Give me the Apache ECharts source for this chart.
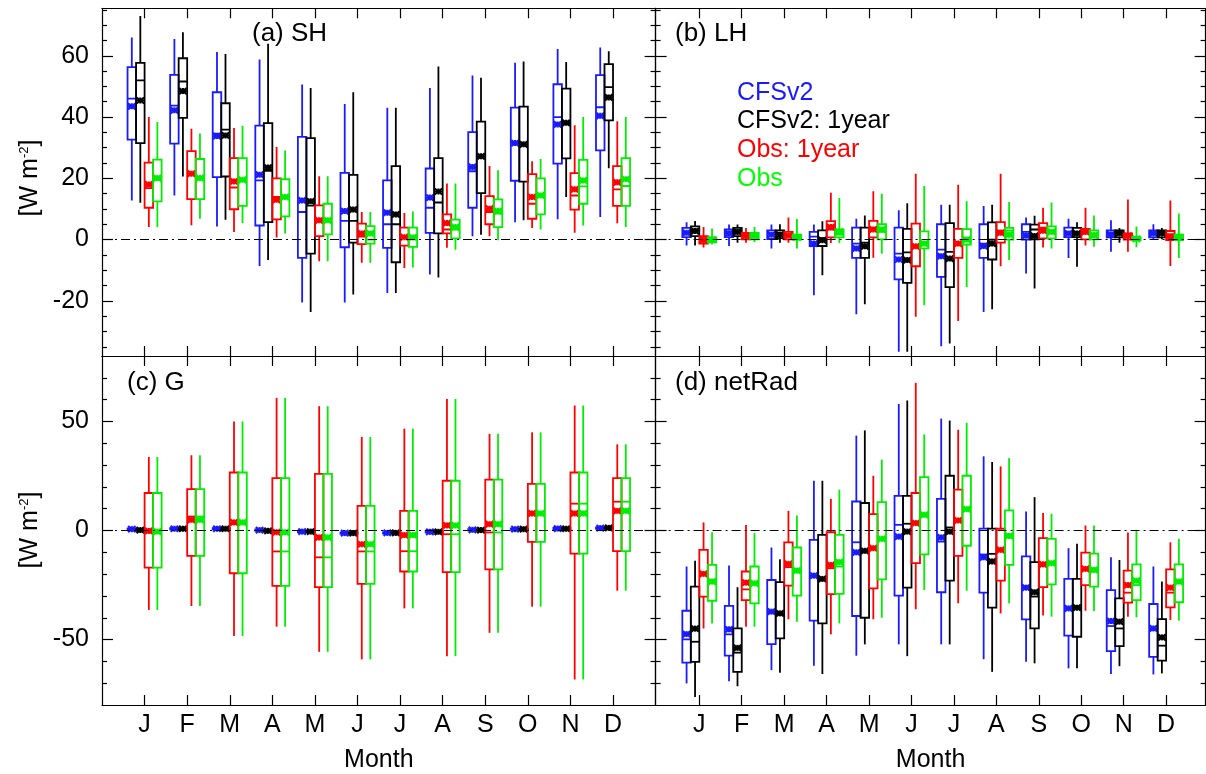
<!DOCTYPE html>
<html><head><meta charset="utf-8">
<script src="https://cdn.jsdelivr.net/npm/echarts@6/dist/echarts.min.js"></script>
<style>html,body{margin:0;padding:0;background:#fff}#c{width:1206px;height:774px}</style>
</head><body><div id="c"></div>
<script>
// ---------- labels ----------
const MONTHS = ['J','F','M','A','M','J','J','A','S','O','N','D'];
const MONTH_POS = [1,2,3,4,5,6,7,8,9,10,11,12];
const SERIES_NAMES = ['CFSv2','CFSv2: 1year','Obs: 1year','Obs'];
const PANEL_TITLES = ['(a) SH','(b) LH','(c) G','(d) netRad'];
const TOP_MAJOR = [-20,0,20,40,60];
const TOP_MINOR = [-35,-30,-25,-15,-10,-5,5,10,15,25,30,35,45,50,55,65,70,75];
const BOT_MAJOR = [-50,0,50];
const BOT_MINOR = [-70,-60,-40,-30,-20,-10,10,20,30,40,60,70];

// each month: [min, q1, median, q3, max, mean]
// ---------- (a) SH ----------
const SH_CFSv2 = [[12.8,32.6,46,56.3,66,43.5],[14.4,31.3,43.7,53.8,65.5,42.2],[4.3,20.4,34.6,48.1,61.2,33.8],[-8.6,4.6,19.3,37.2,58.8,21.2],[-20.5,-6,9,33.5,50.6,12.8],[-20.5,-2.5,6.1,21.8,44.3,9.3],[-17.4,-2.7,5,19.3,43,8.8],[-11.4,2.2,10.4,23.2,49.5,13.7],[1.1,10.4,22.3,35.1,53.6,23.7],[5.7,19.2,31.8,43.1,57.7,31.5],[6.6,24.8,40,50.7,62.2,37.6],[7.4,29.1,43.2,53.7,62.7,40.4]];
const SH_CFSv2_1yr = [[12,31.5,52,57.7,73,45.4],[20.6,39.7,51.6,59.2,67.7,48.5],[6.5,20.6,35.9,44.5,60.6,34],[-6.7,5.7,22.4,38,63.9,23.5],[-23.6,-4.6,11.1,33.1,49.5,12.5],[-17.9,-1,6.1,21.1,48.1,9.8],[-17.4,-7.4,5,24,43,8.2],[-12.4,2,12.1,26.6,56.5,15.7],[1.6,15.2,27,38.5,52.8,27.2],[6.3,18.9,31.1,43.4,58.1,31.1],[13.9,26.5,38.3,49.3,58,38.1],[23.3,38.9,49.8,57.3,61.5,46.4]];
const SH_Obs_1yr = [[4.1,10.4,16.8,25.1,40,18],[4.7,13.2,21.5,28.9,36.2,21.5],[2.5,9.9,17,26.6,36.4,19],[0.7,6.6,13.9,20,30.2,13],[-7.1,1.1,6.5,11.2,20.7,6.3],[-7.6,-1.5,1,5.2,9,2],[-9.3,-2,0.7,3.9,8.7,0.8],[-2.7,2,3.3,8.2,18.3,5.4],[1.1,5,9,14.2,24,10.1],[3.8,6.8,11.7,21.4,25.6,13.9],[2.2,9.8,14.4,21.7,37.3,16.4],[5.3,11,16.4,24,38.6,18.7]];
const SH_Obs = [[4.1,12.5,19.5,26.1,38.4,20.1],[6.8,13.2,20.1,26.3,34.6,20.1],[5.4,11,19.3,26.6,37.2,19.5],[2,7.6,13.9,19.7,29.1,13.9],[-7.1,1.7,6.7,11.7,20.7,6.3],[-7.6,-1.3,0,4.4,9,2],[-9.1,-2.4,0.9,3.9,9.2,0.7],[-3.3,0.4,3.3,6.5,18.3,4.1],[-0.2,4.1,8.5,13.1,22.6,9.3],[3.3,8.2,14.4,20,26.3,14.4],[4.6,11.7,17.4,26,40,19.3],[4.1,11,17.5,26.6,40,19.7]];
// ---------- (b) LH ----------
const LH_CFSv2 = [[-1.9,0.8,2.5,3.8,5.7,2.2],[-2.1,0.8,2.3,3.3,4.9,2],[-2.9,0.2,2,3,4.9,1.6],[-18.2,-2.1,1,2.5,4.9,-1.3],[-24.4,-6,-1.3,3.9,6.8,-2.9],[-36.6,-13,-4.6,3.9,9.6,-6.5],[-34.8,-12.2,-3.3,5,11.4,-5.4],[-23.6,-6,-1.3,5,11,-2.1],[-11.1,0,2.5,5,7.2,1.3],[-6,0.8,2.3,3.9,6.8,2],[-4,0.7,2,3,6.3,1.7],[0,0.7,2,3,5,2]];
const LH_CFSv2_1yr = [[-1.9,1.1,3.3,4.3,6.1,2.8],[-1,1.1,3,3.8,4.9,2.5],[-1,0.5,2.2,3,5,1.6],[-11.6,-2.1,0.5,3,6,-0.2],[-21.1,-6,-1,3.9,7.9,-2.2],[-36.6,-14.1,-4.2,3.5,11.9,-6.7],[-33.9,-15.5,-4,5.4,11.4,-6.2],[-22.7,-6.5,0,5.6,11.4,-1.3],[-16,0.1,3.3,4.9,7.8,1.2],[-8.9,0.8,2.3,3.8,5.7,2],[-1,0.7,2.2,3,3.8,2],[0.1,0.7,2.2,3,3.8,2]];
const LH_Obs_1yr = [[-2.6,-1.3,0.5,1.1,4.1,-0.2],[-1,0.1,1.2,2.2,3.8,1.2],[-1,0.1,1.5,2.5,7.2,1.3],[-1.1,0.7,3.3,6,15.3,4.1],[-5.9,0.7,3.8,6.1,15.8,3.3],[-25.2,-8.7,-2.2,5.2,21.5,-2.2],[-26.6,-6,-1.3,3.5,17.9,-1.3],[-8.7,-1,2.9,5.7,21.5,2.2],[-2.6,0.4,3.9,5.4,10.4,2.9],[-1.9,0.1,2,3.5,10.4,2.5],[-4,0,0.8,2,13.1,1.2],[-8.6,-0.2,1.8,2.8,12.8,0.8]];
const LH_Obs = [[-1.6,-0.9,0.3,0.7,3.6,0],[-0.8,0.1,1.2,2.2,4.1,1.2],[-2.9,0,0.9,1.6,6.7,0.7],[-1.1,0.7,1.6,3.3,13.6,2.5],[-4.6,0.1,2.5,5,15,3.3],[-21.4,-2.9,-1,2.7,17.5,-1.3],[-15.5,-1.6,0.5,3.4,12.5,0],[-6.7,0,2.9,3.8,12.3,1.6],[-2.9,0.4,2.9,4.3,12.1,2.5],[-2.3,0.1,2,3,7.9,1.4],[-2.5,-0.2,0.4,0.8,4.3,0.2],[-6,-0.2,0.5,1.6,8.5,0.8]];
// ---------- (c) G ----------
const G_CFSv2 = [[0.1,0.3,0.6,0.9,1.1,0.6],[0.3,0.5,0.8,1.1,1.3,0.8],[0.3,0.5,0.8,1.1,1.3,0.8],[-0.4,-0.1,0.2,0.5,0.7,0.2],[-1,-0.8,-0.5,-0.2,0,-0.5],[-1.7,-1.5,-1.2,-0.9,-0.7,-1.2],[-1.6,-1.4,-1.1,-0.8,-0.6,-1.1],[-1.1,-0.9,-0.6,-0.3,-0.1,-0.6],[-0.2,0,0.3,0.6,0.8,0.3],[0.1,0.3,0.6,0.9,1.1,0.6],[0.4,0.6,0.9,1.2,1.4,0.9],[0.6,0.8,1.1,1.4,1.6,1.1]];
const G_CFSv2_1yr = [[-0.3,-0.1,0.2,0.5,0.7,0.2],[0.3,0.5,0.8,1.1,1.3,0.8],[0.3,0.5,0.8,1.1,1.3,0.8],[-0.7,-0.4,-0.15,0.2,0.4,-0.15],[-1,-0.8,-0.5,-0.2,0,-0.5],[-1.7,-1.5,-1.2,-0.9,-0.7,-1.2],[-1.6,-1.4,-1.1,-0.8,-0.6,-1.1],[-1.1,-0.9,-0.6,-0.3,-0.1,-0.6],[-0.3,-0.1,0.2,0.5,0.7,0.2],[0.1,0.3,0.6,0.9,1.1,0.6],[0.3,0.5,0.8,1.1,1.3,0.8],[0.7,0.9,1.2,1.5,1.7,1.2]];
const G_Obs_1yr = [[-36.4,-17,-0.9,17.2,33.7,-0.2],[-34.6,-11.6,6.4,19,34.5,4.9],[-48.4,-19.6,3.1,26.6,50,3.7],[-44.1,-25.4,-9.6,24,60.8,-0.8],[-55.6,-26,-12.3,26,57,-3.2],[-59.1,-24.5,-9.6,11.3,42.9,-6.3],[-35.7,-18.8,-9.5,9,46.7,-2.1],[-57.6,-19.1,-1.7,22.8,60.3,2.3],[-46.9,-17.8,-0.9,23.3,44.3,2.9],[-34.9,-5.2,7.7,21.4,45,7.8],[-68.3,-10.6,12.3,26.6,57.3,7.8],[-27.6,-9.5,13.2,24,39.5,9]];
const G_Obs = [[-36.4,-17,-0.9,17.2,33.7,-0.5],[-34.6,-11.6,6.4,19,34.5,4.9],[-48.4,-19.6,3.1,26.6,50,3.7],[-44.1,-25.4,-9.6,24,60.8,-0.8],[-55.6,-26,-12.3,26,57,-3.2],[-59.1,-24.5,-9.6,11.3,42.9,-6.3],[-35.7,-18.8,-9.5,9,46.7,-2.1],[-57.6,-19.1,-1.7,22.8,60.3,2.3],[-46.9,-17.8,-0.9,23.3,44.3,2.9],[-34.9,-5.2,7.7,21.4,45,7.8],[-68.3,-10.6,12.3,26.6,57.3,7.8],[-27.6,-9.5,13.2,24,39.5,9]];
// ---------- (d) netRad ----------
const NR_CFSv2 = [[-70.1,-60.6,-49.9,-36.8,-16.5,-47.5],[-69.1,-57.4,-47.6,-34.6,-16.1,-45.3],[-64,-52.1,-37.5,-22.7,-7.8,-37.2],[-62,-41.3,-20.7,-4.3,22.8,-20.7],[-57.4,-39.2,-5.4,13.3,43.5,-10],[-52.2,-29.9,2.6,15.9,58,-2.8],[-52.2,-28.3,-5.1,14.5,51.3,-3.2],[-59,-28.5,-11,0.9,34,-12.3],[-60.2,-40.7,-26,-11.9,8.7,-26.2],[-63.2,-48.2,-35.7,-22.2,-8.1,-35.7],[-65.8,-55.3,-43.8,-27.3,-12.3,-41.5],[-66,-57.9,-45.5,-33.7,-16.5,-44.9]];
const NR_CFSv2_1yr = [[-76.3,-60.2,-51,-25.7,-13.9,-45],[-71.4,-64.8,-56,-44.9,-26,-53.8],[-65.2,-49.5,-38.5,-23.7,-13.2,-38],[-65.8,-42.6,-22.5,-2,22.8,-22.2],[-52.2,-40,-9.5,12.6,45.9,-9.3],[-57.6,-26.2,3.1,15.9,59.6,-0.5],[-52.2,-23,1.4,25.1,50.4,-0.5],[-64.8,-35.4,-10.7,0.9,31.4,-14.2],[-60.9,-44.9,-30.3,-14.5,15.3,-28.3],[-63.2,-48.7,-35.4,-22.2,-6.1,-35.4],[-62.2,-53,-44.9,-31.1,-13.5,-41.8],[-65.5,-59.7,-52.8,-40.6,-23.4,-49]];
const NR_Obs_1yr = [[-44.9,-30.3,-19.6,-8.9,3.7,-19.9],[-44.1,-31.9,-27,-18.8,2.5,-23.9],[-40.7,-25.3,-16.8,-5.4,9,-15.3],[-47.6,-29.2,-17.3,-0.8,14.5,-15.8],[-40.7,-26.5,-7.8,7.5,25.1,-8.1],[-36.1,-15,3,17.2,67.7,3.4],[-33.4,-11.6,4.6,18.7,46.2,4.6],[-38,-23,-8.9,0.8,29.4,-8.9],[-39,-26,-15.5,-3.5,8,-15.5],[-36.8,-25,-17.6,-10.1,2.3,-17.6],[-39.5,-33.1,-28.5,-18.4,-0.9,-25],[-41,-35.2,-28.5,-17.8,-5.4,-26.2]];
const NR_Obs = [[-42.6,-32.2,-23.4,-15.8,-0.8,-23.4],[-44.1,-33.4,-24.2,-16.5,-1.2,-24.2],[-41.8,-29.9,-18.4,-7.8,6.9,-18.4],[-42.6,-29.1,-16.5,-2,18.7,-14.5],[-40,-22.4,-3.5,13,32.5,-3.8],[-27.3,-10.9,7.2,24.5,44,7.2],[-27.6,-7,9.8,25.1,49.3,9.8],[-33.4,-15.8,-2.5,9.2,33.2,-2.5],[-39.5,-24.7,-15,-3.8,7.7,-15],[-36.9,-25.7,-18.1,-10.6,2.3,-18.1],[-39.8,-31.9,-25,-15.5,0.3,-23],[-41.3,-32.9,-23.4,-15.5,-3.8,-23.4]];

const PANELS = [
  [SH_CFSv2, SH_CFSv2_1yr, SH_Obs_1yr, SH_Obs],
  [LH_CFSv2, LH_CFSv2_1yr, LH_Obs_1yr, LH_Obs],
  [G_CFSv2, G_CFSv2_1yr, G_Obs_1yr, G_Obs],
  [NR_CFSv2, NR_CFSv2_1yr, NR_Obs_1yr, NR_Obs]
];

// ---------- styling ----------
const FONT = "'Liberation Sans', Arial, Helvetica, sans-serif";
const COLORS = ['#1a1aff', '#000000', '#ff0000', '#00ee00'];
const TEXT_COLORS = ['#1a1aff', '#000000', '#ff0000', '#00ff00'];
const OFFSETS = [-0.3, -0.1, 0.1, 0.3];
const BOX_W = 0.2;
const GRIDS = [
  {left: 102, top: 8.3, width: 553.6, height: 347.7},
  {left: 655.6, top: 8.3, width: 550, height: 347.7},
  {left: 102, top: 356, width: 553.6, height: 349},
  {left: 655.6, top: 356, width: 550, height: 349}
];
const XRANGE = [[0, 13], [-0.03, 12.93], [0, 13], [-0.03, 12.93]];
const YRANGE = [[-38, 75.5], [-38, 75.5], [-80, 80], [-80, 80]];

function renderBox(params, api) {
  const x = api.value(0);
  const yv = i => api.coord([x, api.value(i)])[1];
  const cx = api.coord([x, 0])[0];
  const half = api.size([BOX_W, 0])[0] / 2;
  const yLo = yv(1), yQ1 = yv(2), yMd = yv(3), yQ3 = yv(4), yHi = yv(5), yMn = yv(6);
  const color = api.visual('color');
  const ls = {stroke: color, lineWidth: 1.8, fill: null};
  const ms = {stroke: color, lineWidth: 2.2, fill: null};
  const m = 3.8, mh = 3;
  return {type: 'group', children: [
    {type: 'line', shape: {x1: cx, y1: yHi, x2: cx, y2: yQ3}, style: ls},
    {type: 'line', shape: {x1: cx, y1: yQ1, x2: cx, y2: yLo}, style: ls},
    {type: 'rect', shape: {x: cx - half, y: yQ3, width: 2 * half, height: yQ1 - yQ3}, style: ls},
    {type: 'line', shape: {x1: cx - half, y1: yMd, x2: cx + half, y2: yMd}, style: ls},
    {type: 'line', shape: {x1: cx - m, y1: yMn, x2: cx + m, y2: yMn}, style: ms},
    {type: 'line', shape: {x1: cx - m, y1: yMn - mh, x2: cx + m, y2: yMn + mh}, style: ms},
    {type: 'line', shape: {x1: cx - m, y1: yMn + mh, x2: cx + m, y2: yMn - mh}, style: ms},
    {type: 'line', shape: {x1: cx, y1: yMn - mh, x2: cx, y2: yMn + mh}, style: ms}
  ]};
}

const grid = GRIDS.map(g => Object.assign({containLabel: false}, g));
const xAxis = [], yAxis = [], series = [];
const lineStyle = {color: '#000', width: 1.2};
GRIDS.forEach((g, gi) => {
  const [xmin, xmax] = XRANGE[gi];
  const [ymin, ymax] = YRANGE[gi];
  const isBottom = gi >= 2, isLeft = gi % 2 === 0;
  ['bottom', 'top'].forEach(pos => {
    xAxis.push({
      gridIndex: gi, type: 'value', min: xmin, max: xmax, position: pos,
      axisLine: {show: true, onZero: false, lineStyle},
      axisTick: {show: true, inside: true, length: 10, customValues: MONTH_POS, lineStyle},
      axisLabel: {show: isBottom && pos === 'bottom', customValues: MONTH_POS,
        formatter: v => MONTHS[Math.round(v) - 1] || '', fontSize: 25, fontFamily: FONT, color: '#000', margin: 8},
      splitLine: {show: false}
    });
  });
  const major = isBottom ? BOT_MAJOR : TOP_MAJOR;
  const minor = isBottom ? BOT_MINOR : TOP_MINOR;
  ['left', 'right'].forEach(pos => {
    yAxis.push({
      gridIndex: gi, type: 'value', min: ymin, max: ymax, position: pos,
      axisLine: {show: true, onZero: false, lineStyle},
      axisTick: {show: true, inside: true, length: 11, customValues: major, lineStyle},
      axisLabel: {show: isLeft && pos === 'left', customValues: major, fontSize: 25, fontFamily: FONT, color: '#000', margin: 13},
      splitLine: {show: false}
    });
    yAxis.push({
      gridIndex: gi, type: 'value', min: ymin, max: ymax, position: pos,
      axisLine: {show: false, onZero: false},
      axisTick: {show: true, inside: true, length: 5, customValues: minor, lineStyle},
      axisLabel: {show: false},
      splitLine: {show: false}
    });
  });
  PANELS[gi].forEach((arr, si) => {
    const s = {
      type: 'custom', name: SERIES_NAMES[si], xAxisIndex: gi * 2, yAxisIndex: gi * 4,
      renderItem: renderBox, itemStyle: {color: COLORS[si]},
      encode: {x: 0, y: [1, 2, 3, 4, 5, 6]},
      data: arr.map((v, mi) => [MONTH_POS[mi] + OFFSETS[si]].concat(v)),
      z: 3, silent: true, animation: false, clip: true
    };
    if (si === 0) {
      s.markLine = {silent: true, symbol: ['none', 'none'], label: {show: false}, animation: false,
        lineStyle: {color: '#000', width: 1, type: [9, 4, 2, 4]}, data: [{yAxis: 0}]};
    }
    series.push(s);
  });
});

const graphic = [];
const TITLE_POS = [[252, 34], [675, 34], [127, 383], [675, 383]];
PANEL_TITLES.forEach((t, i) => graphic.push({type: 'text', x: TITLE_POS[i][0], y: TITLE_POS[i][1],
  style: {text: t, fontSize: 26, fontFamily: FONT, fill: '#000', align: 'left', verticalAlign: 'middle'}}));
SERIES_NAMES.forEach((t, i) => graphic.push({type: 'text', x: 737, y: 93 + i * 28.6,
  style: {text: t, fontSize: 25, fontFamily: FONT, fill: TEXT_COLORS[i], align: 'left', verticalAlign: 'middle'}}));
[[378.8, 760], [930.6, 760]].forEach(p => graphic.push({type: 'text', x: p[0], y: p[1],
  style: {text: 'Month', fontSize: 25, fontFamily: FONT, fill: '#000', align: 'center', verticalAlign: 'middle'}}));
[[30, 178], [30, 530]].forEach(p => graphic.push({type: 'text', x: p[0], y: p[1], rotation: Math.PI / 2,
  style: {text: '{a|[W m}{s|-2}{a|]}', align: 'center', verticalAlign: 'middle', fill: '#000',
    rich: {a: {fontSize: 25, fontFamily: FONT, fill: '#000'}, s: {fontSize: 13, fontFamily: FONT, fill: '#000', verticalAlign: 'top', padding: [0, 0, 10, 0]}}}}));

const chart = echarts.init(document.getElementById('c'), null, {renderer: 'canvas'});
chart.setOption({animation: false, backgroundColor: '#fff', grid, xAxis, yAxis, series, graphic});
</script>
</body></html>
